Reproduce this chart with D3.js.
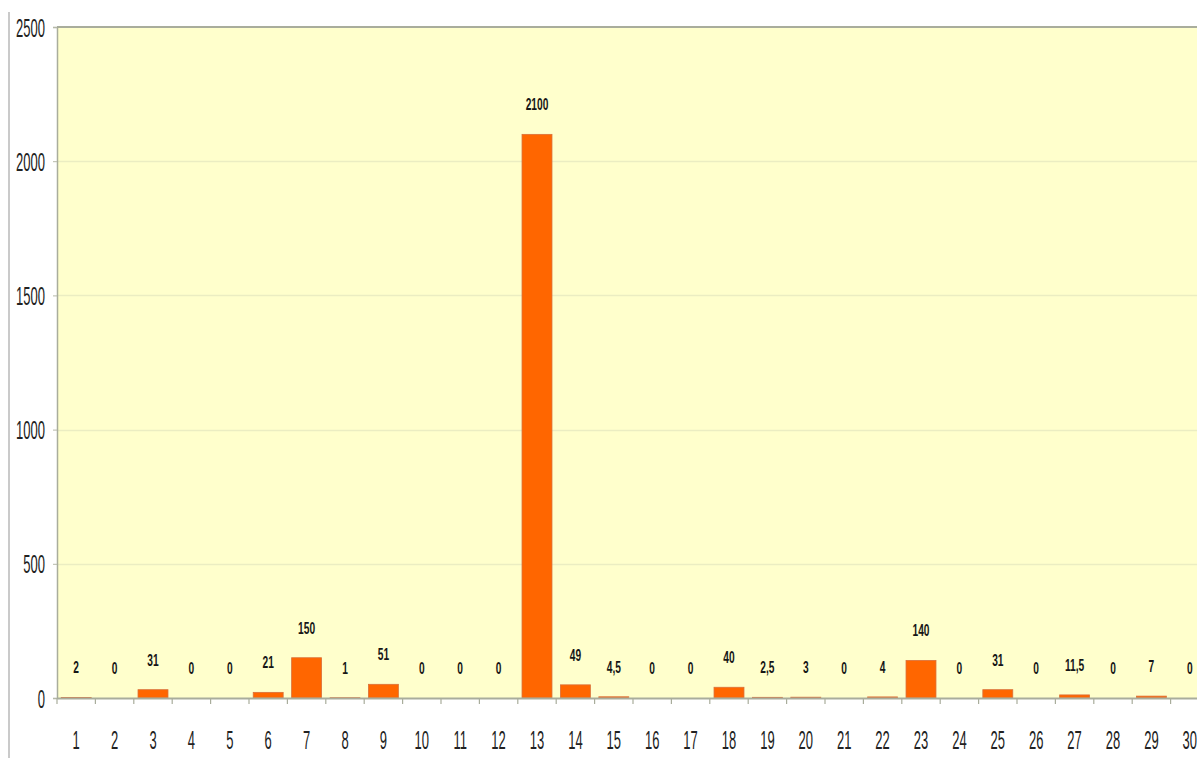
<!DOCTYPE html>
<html>
<head>
<meta charset="utf-8">
<script src="https://cdn.jsdelivr.net/npm/d3@7"></script>
<style>
  html, body { margin: 0; padding: 0; background: #ffffff; }
  svg { display: block; }
  .num { font-family: "Liberation Sans", Arial, sans-serif; }
</style>
</head>
<body>
<svg id="chart" width="1197" height="758"></svg>
<script>
// Day numbers along the x axis
const days = d3.range(1, 31).map(String);
// Measured amount for each day
const amounts = [2, 0, 31, 0, 0, 21, 150, 1, 51, 0, 0, 0, 2100, 49, 4.5, 0, 0, 40, 2.5, 3, 0, 4, 140, 0, 31, 0, 11.5, 0, 7, 0];
// Value axis ticks
const yTicks = [0, 500, 1000, 1500, 2000, 2500];

const svg = d3.select("#chart");
const plotL = 57, plotT = 27, plotB = 698, bandW = 38.4;
const plotR = plotL + days.length * bandW;
const squeeze = 0.52;      // narrow lettering for axis labels
const squeezeVal = 0.6;    // narrow lettering for value labels

const x = d3.scaleBand().domain(days).range([plotL, plotR]).paddingInner(0.22).paddingOuter(0.11);
const y = d3.scaleLinear().domain([0, 2500]).range([plotB, plotT]);

// comma as decimal separator
const fmt = v => String(v).replace(".", ",");

// outer frame line at the far left
svg.append("line").attr("x1", 9).attr("x2", 9).attr("y1", 12).attr("y2", 758)
  .attr("stroke", "#b8b8b8").attr("stroke-width", 1.5);

// plot background
svg.append("rect").attr("x", plotL).attr("y", plotT).attr("width", plotR - plotL).attr("height", plotB - plotT)
  .attr("fill", "#ffffcc");

// horizontal gridlines
svg.append("g").selectAll("line").data(yTicks.filter(t => t > 0 && t < 2500)).join("line")
  .attr("x1", plotL).attr("x2", plotR)
  .attr("y1", d => Math.round(y(d)) + 0.5).attr("y2", d => Math.round(y(d)) + 0.5)
  .attr("stroke", "#ebedc2").attr("stroke-width", 1.5);

// top border
svg.append("line").attr("x1", plotL).attr("x2", plotR).attr("y1", plotT).attr("y2", plotT)
  .attr("stroke", "#a9ad9c").attr("stroke-width", 2);

// bars
svg.append("g").selectAll("rect").data(amounts).join("rect")
  .attr("x", (d, i) => x(days[i]))
  .attr("y", d => y(d))
  .attr("width", x.bandwidth())
  .attr("height", d => plotB - y(d))
  .attr("fill", "#ff6600")
  .attr("stroke", d => d > 0 ? "#d9703a" : "none")
  .attr("stroke-width", 0.8);

// value labels
svg.append("g").selectAll("text").data(amounts).join("text")
  .attr("class", "num")
  .attr("transform", (d, i) => `translate(${x(days[i]) + x.bandwidth() / 2},${y(d) - 24}) scale(${squeezeVal},1)`)
  .attr("text-anchor", "middle")
  .attr("font-size", 17)
  .attr("font-weight", "bold")
  .attr("fill", "#161616")
  .text(d => fmt(d));

// y axis
const yAxis = d3.axisLeft(y).tickValues(yTicks).tickSize(4).tickPadding(8).tickFormat(d3.format("d"));
const gy = svg.append("g").attr("transform", `translate(${plotL},0)`).call(yAxis);
gy.select(".domain").attr("stroke", "#a9ad9c").attr("stroke-width", 1.5);
gy.selectAll(".tick line").attr("stroke", "#b5b8a8");
gy.selectAll(".tick text")
  .attr("class", "num").attr("font-size", 25).attr("fill", "#222")
  .attr("transform", function () {
    const tx = +this.getAttribute("x") || 0;
    return `translate(${tx},1) scale(${squeeze},1)`;
  })
  .attr("x", 0);

// x axis
const xAxis = d3.axisBottom(x).tickSize(0).tickPadding(33);
const gx = svg.append("g").attr("transform", `translate(0,${plotB})`).call(xAxis);
gx.select(".domain").attr("stroke", "#a9ad9c").attr("stroke-width", 2);
gx.selectAll(".tick text")
  .attr("class", "num").attr("font-size", 25).attr("fill", "#222")
  .attr("transform", `scale(${squeeze},1)`);

// category separator ticks
svg.append("g").selectAll("line").data(d3.range(days.length + 1)).join("line")
  .attr("x1", i => plotL + i * bandW).attr("x2", i => plotL + i * bandW)
  .attr("y1", plotB).attr("y2", plotB + 6)
  .attr("stroke", "#a9ad9c").attr("stroke-width", 1.2);
</script>
</body>
</html>
